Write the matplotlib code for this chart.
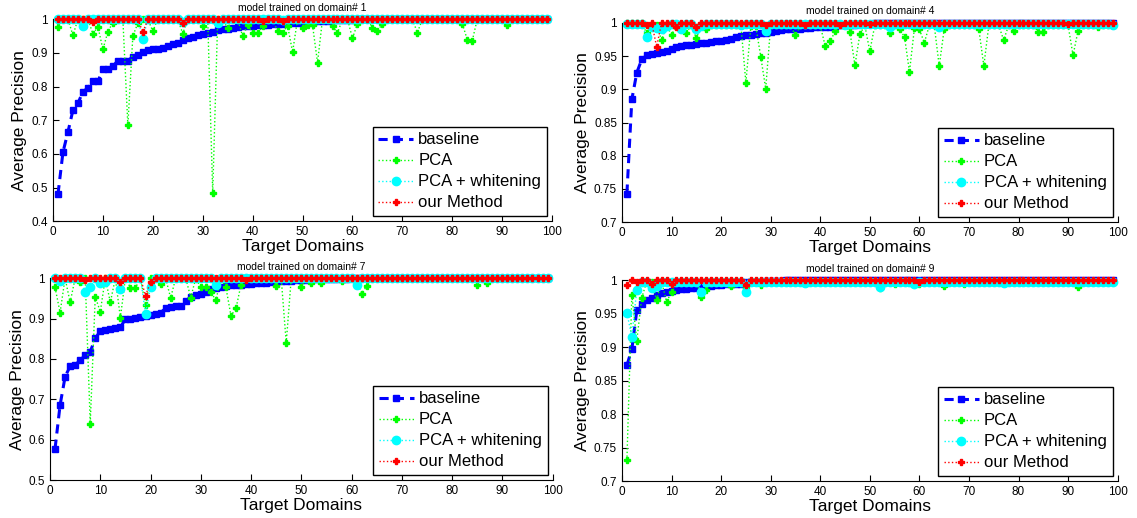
import numpy as np
import matplotlib.pyplot as plt

plt.rcParams['font.family'] = ['Liberation Sans', 'DejaVu Sans']

# target domain index (1..99)
domains = np.arange(1, 100)

# ---- model trained on domain# 1 ----
base_1 = [0.48, 0.605, 0.665, 0.73, 0.75, 0.785, 0.795, 0.815, 0.815, 0.851,
          0.853, 0.86, 0.877, 0.877, 0.877, 0.888, 0.895, 0.902, 0.908, 0.91,
          0.912, 0.915, 0.92, 0.926, 0.93, 0.937, 0.943, 0.948, 0.953, 0.957,
          0.96, 0.963, 0.967, 0.97, 0.972, 0.975, 0.977, 0.979, 0.981, 0.981,
          0.982, 0.983, 0.984, 0.985, 0.986, 0.987, 0.988, 0.989, 0.99, 0.991,
          0.992, 0.993, 0.994, 0.995, 0.996, 0.997, 0.998, 0.998, 0.999, 0.999,
          1.0, 1.0, 1.0, 1.0, 1.0, 1.0, 1.0, 1.0, 1.0, 1.0,
          1.0, 1.0, 1.0, 1.0, 1.0, 1.0, 1.0, 1.0, 1.0, 1.0,
          1.0, 1.0, 1.0, 1.0, 1.0, 1.0, 1.0, 1.0, 1.0, 1.0,
          1.0, 1.0, 1.0, 1.0, 1.0, 1.0, 1.0, 1.0, 1.0]
pca_1 = [0.978, 1.0, 1.0, 0.952, 1.0, 1.0, 1.0, 0.956, 0.978, 0.91,
         0.963, 0.99, 1.0, 1.0, 0.685, 0.95, 0.988, 1.0, 1.0, 0.964,
         1.0, 1.0, 1.0, 1.0, 1.0, 0.957, 1.0, 1.0, 1.0, 0.979,
         1.0, 0.485, 1.0, 1.0, 0.973, 1.0, 1.0, 0.949, 0.984, 0.958,
         0.958, 0.98, 1.0, 1.0, 0.964, 0.96, 0.981, 0.902, 1.0, 0.975,
         0.982, 0.982, 0.871, 1.0, 1.0, 0.979, 0.959, 1.0, 1.0, 0.943,
         0.987, 1.0, 1.0, 0.974, 0.964, 0.987, 1.0, 1.0, 1.0, 1.0,
         1.0, 1.0, 0.96, 1.0, 1.0, 1.0, 1.0, 1.0, 1.0, 1.0,
         1.0, 0.987, 0.939, 0.936, 1.0, 1.0, 1.0, 1.0, 1.0, 1.0,
         0.982, 1.0, 1.0, 1.0, 1.0, 1.0, 1.0, 1.0, 1.0]
pcaw_1 = [1.0, 1.0, 1.0, 1.0, 1.0, 0.979, 1.0, 1.0, 1.0, 1.0,
          1.0, 1.0, 1.0, 1.0, 1.0, 1.0, 1.0, 0.942, 1.0, 1.0,
          1.0, 1.0, 1.0, 1.0, 1.0, 0.993, 1.0, 1.0, 1.0, 1.0,
          1.0, 1.0, 0.988, 1.0, 1.0, 1.0, 1.0, 1.0, 1.0, 1.0,
          1.0, 1.0, 1.0, 1.0, 1.0, 0.998, 1.0, 1.0, 1.0, 1.0,
          1.0, 1.0, 1.0, 1.0, 1.0, 1.0, 1.0, 1.0, 1.0, 1.0,
          1.0, 1.0, 1.0, 1.0, 1.0, 1.0, 1.0, 1.0, 1.0, 1.0,
          1.0, 1.0, 1.0, 1.0, 1.0, 1.0, 1.0, 1.0, 1.0, 1.0,
          1.0, 1.0, 1.0, 1.0, 1.0, 1.0, 1.0, 1.0, 1.0, 1.0,
          1.0, 1.0, 1.0, 1.0, 1.0, 1.0, 1.0, 1.0, 1.0]
ours_1 = [1.0, 1.0, 1.0, 1.0, 1.0, 1.0, 1.0, 0.993, 1.0, 1.0,
          1.0, 1.0, 1.0, 1.0, 1.0, 1.0, 1.0, 0.961, 1.0, 1.0,
          1.0, 1.0, 1.0, 1.0, 1.0, 0.988, 1.0, 1.0, 1.0, 1.0,
          1.0, 1.0, 1.0, 1.0, 1.0, 1.0, 1.0, 1.0, 1.0, 1.0,
          1.0, 0.995, 1.0, 1.0, 1.0, 0.995, 1.0, 1.0, 1.0, 1.0,
          1.0, 1.0, 1.0, 1.0, 1.0, 1.0, 1.0, 1.0, 1.0, 1.0,
          1.0, 1.0, 1.0, 1.0, 1.0, 1.0, 1.0, 1.0, 1.0, 1.0,
          1.0, 1.0, 1.0, 1.0, 1.0, 1.0, 1.0, 1.0, 1.0, 1.0,
          1.0, 1.0, 1.0, 1.0, 1.0, 1.0, 1.0, 1.0, 1.0, 1.0,
          1.0, 1.0, 1.0, 1.0, 1.0, 1.0, 1.0, 1.0, 1.0]

# ---- model trained on domain# 4 ----
base_4 = [0.743, 0.885, 0.925, 0.945, 0.951, 0.953, 0.954, 0.956, 0.958, 0.961,
          0.963, 0.965, 0.966, 0.967, 0.968, 0.969, 0.97, 0.971, 0.972, 0.973,
          0.974, 0.975, 0.979, 0.98, 0.981, 0.982, 0.983, 0.984, 0.985, 0.986,
          0.988, 0.989, 0.99, 0.99, 0.991, 0.991, 0.992, 0.992, 0.993, 0.993,
          0.994, 0.994, 0.995, 0.996, 0.996, 0.997, 0.997, 0.998, 0.998, 0.998,
          0.999, 0.999, 0.999, 0.999, 0.999, 0.999, 0.999, 0.999, 0.999, 0.999,
          1.0, 1.0, 1.0, 1.0, 1.0, 1.0, 1.0, 1.0, 1.0, 1.0,
          1.0, 1.0, 1.0, 1.0, 1.0, 1.0, 1.0, 1.0, 1.0, 1.0,
          1.0, 1.0, 1.0, 1.0, 1.0, 1.0, 1.0, 1.0, 1.0, 1.0,
          1.0, 1.0, 1.0, 1.0, 1.0, 1.0, 1.0, 1.0, 1.0]
pca_4 = [1.0, 1.0, 1.0, 1.0, 0.984, 0.996, 0.996, 0.974, 0.996, 0.982,
         0.996, 0.996, 0.985, 0.996, 0.977, 0.996, 0.99, 0.996, 0.996, 0.996,
         0.996, 0.996, 0.996, 0.996, 0.91, 0.995, 0.995, 0.949, 0.901, 0.996,
         0.996, 0.996, 0.996, 0.996, 0.981, 0.996, 0.996, 0.996, 0.996, 0.996,
         0.965, 0.972, 0.987, 0.996, 0.996, 0.986, 0.936, 0.983, 0.996, 0.957,
         0.996, 0.996, 0.996, 0.984, 0.996, 0.99, 0.979, 0.926, 0.992, 0.99,
         0.97, 0.996, 0.996, 0.935, 0.99, 0.996, 0.996, 0.996, 0.996, 0.996,
         0.996, 0.99, 0.935, 0.996, 0.996, 0.996, 0.974, 0.996, 0.987, 0.996,
         0.996, 0.996, 0.996, 0.986, 0.986, 0.996, 0.996, 0.996, 0.996, 0.996,
         0.951, 0.988, 0.996, 0.996, 0.996, 0.994, 0.996, 0.996, 0.996]
pcaw_4 = [0.998, 0.998, 0.998, 0.998, 0.978, 0.993, 0.992, 0.99, 0.995, 0.998,
          0.998, 0.99, 0.998, 0.998, 0.991, 0.995, 0.998, 0.998, 0.998, 0.998,
          0.998, 0.998, 0.998, 0.996, 0.998, 0.998, 0.998, 0.998, 0.988, 0.998,
          0.998, 0.998, 0.998, 0.998, 0.998, 0.998, 0.998, 0.998, 0.998, 0.998,
          0.998, 0.998, 0.998, 0.998, 0.996, 0.998, 0.998, 0.998, 0.998, 0.998,
          0.998, 0.998, 0.998, 0.993, 0.998, 0.998, 0.998, 0.998, 0.998, 0.998,
          0.998, 0.998, 0.998, 0.993, 0.998, 0.998, 0.998, 0.998, 0.998, 0.998,
          0.998, 0.998, 0.998, 0.998, 0.998, 0.998, 0.998, 0.998, 0.998, 0.998,
          0.998, 0.998, 0.998, 0.998, 0.998, 0.998, 0.998, 0.998, 0.998, 0.998,
          0.998, 0.998, 0.998, 0.998, 0.998, 0.998, 0.998, 0.998, 0.996]
ours_4 = [1.0, 1.0, 1.0, 1.0, 0.997, 1.0, 0.964, 1.0, 1.0, 1.0,
          0.994, 1.0, 1.0, 1.0, 0.994, 1.0, 1.0, 1.0, 1.0, 1.0,
          1.0, 1.0, 1.0, 1.0, 1.0, 1.0, 1.0, 1.0, 0.997, 1.0,
          1.0, 1.0, 1.0, 1.0, 1.0, 1.0, 0.997, 1.0, 1.0, 1.0,
          1.0, 1.0, 1.0, 0.997, 1.0, 1.0, 1.0, 1.0, 1.0, 0.998,
          1.0, 1.0, 1.0, 1.0, 1.0, 1.0, 1.0, 1.0, 1.0, 1.0,
          1.0, 1.0, 1.0, 1.0, 1.0, 1.0, 1.0, 1.0, 1.0, 1.0,
          1.0, 1.0, 1.0, 1.0, 1.0, 1.0, 1.0, 1.0, 1.0, 1.0,
          1.0, 1.0, 1.0, 1.0, 1.0, 1.0, 1.0, 1.0, 1.0, 0.998,
          1.0, 1.0, 1.0, 1.0, 1.0, 1.0, 1.0, 1.0, 1.0]

# ---- model trained on domain# 7 ----
base_7 = [0.578, 0.686, 0.756, 0.782, 0.785, 0.797, 0.809, 0.818, 0.851, 0.869,
          0.871, 0.873, 0.876, 0.878, 0.899, 0.9, 0.901, 0.903, 0.906, 0.91,
          0.912, 0.915, 0.925, 0.928, 0.93, 0.932, 0.943, 0.954, 0.958, 0.962,
          0.965, 0.972, 0.975, 0.978, 0.98, 0.982, 0.983, 0.984, 0.985, 0.986,
          0.987, 0.988, 0.989, 0.99, 0.991, 0.992, 0.993, 0.994, 0.995, 0.995,
          0.996, 0.996, 0.997, 0.997, 0.998, 0.998, 0.999, 0.999, 0.999, 1.0,
          1.0, 1.0, 1.0, 1.0, 1.0, 1.0, 1.0, 1.0, 1.0, 1.0,
          1.0, 1.0, 1.0, 1.0, 1.0, 1.0, 1.0, 1.0, 1.0, 1.0,
          1.0, 1.0, 1.0, 1.0, 1.0, 1.0, 1.0, 1.0, 1.0, 1.0,
          1.0, 1.0, 1.0, 1.0, 1.0, 1.0, 1.0, 1.0, 1.0]
pca_7 = [0.977, 0.915, 1.0, 0.94, 1.0, 0.99, 1.0, 0.64, 0.954, 0.917,
         1.0, 0.94, 1.0, 0.902, 1.0, 0.976, 0.976, 1.0, 0.933, 1.0,
         1.0, 0.985, 1.0, 0.951, 1.0, 1.0, 1.0, 0.952, 1.0, 0.977,
         0.977, 0.966, 0.945, 1.0, 0.977, 0.907, 0.925, 0.984, 1.0, 1.0,
         1.0, 1.0, 1.0, 1.0, 0.98, 1.0, 0.84, 1.0, 1.0, 0.977,
         1.0, 0.988, 1.0, 0.987, 1.0, 1.0, 1.0, 0.993, 1.0, 1.0,
         1.0, 0.962, 0.98, 1.0, 1.0, 1.0, 1.0, 1.0, 1.0, 1.0,
         1.0, 1.0, 1.0, 1.0, 1.0, 1.0, 1.0, 1.0, 1.0, 1.0,
         1.0, 1.0, 1.0, 1.0, 0.983, 1.0, 0.989, 1.0, 1.0, 1.0,
         1.0, 1.0, 1.0, 1.0, 1.0, 1.0, 1.0, 1.0, 1.0]
pcaw_7 = [1.0, 0.993, 1.0, 1.0, 1.0, 1.0, 0.966, 0.978, 1.0, 0.987,
          0.99, 1.0, 1.0, 0.974, 1.0, 1.0, 1.0, 1.0, 0.912, 0.979,
          1.0, 1.0, 1.0, 1.0, 1.0, 1.0, 1.0, 1.0, 1.0, 1.0,
          1.0, 1.0, 0.982, 1.0, 1.0, 1.0, 1.0, 1.0, 1.0, 1.0,
          1.0, 1.0, 1.0, 1.0, 1.0, 1.0, 1.0, 1.0, 1.0, 1.0,
          1.0, 1.0, 1.0, 1.0, 1.0, 1.0, 1.0, 1.0, 1.0, 1.0,
          0.983, 1.0, 1.0, 1.0, 1.0, 1.0, 1.0, 1.0, 1.0, 1.0,
          1.0, 1.0, 1.0, 1.0, 1.0, 1.0, 1.0, 1.0, 1.0, 1.0,
          1.0, 1.0, 1.0, 1.0, 1.0, 1.0, 1.0, 1.0, 1.0, 1.0,
          1.0, 1.0, 1.0, 1.0, 1.0, 1.0, 1.0, 1.0, 1.0]
ours_7 = [1.0, 1.0, 1.0, 1.0, 1.0, 1.0, 0.995, 1.0, 1.0, 1.0,
          1.0, 1.0, 1.0, 0.991, 1.0, 1.0, 1.0, 1.0, 0.957, 0.99,
          1.0, 1.0, 1.0, 1.0, 1.0, 1.0, 1.0, 1.0, 1.0, 1.0,
          1.0, 1.0, 1.0, 1.0, 1.0, 1.0, 1.0, 1.0, 0.995, 1.0,
          1.0, 1.0, 1.0, 1.0, 1.0, 1.0, 1.0, 1.0, 1.0, 1.0,
          1.0, 1.0, 1.0, 1.0, 1.0, 1.0, 1.0, 1.0, 1.0, 1.0,
          1.0, 1.0, 1.0, 1.0, 1.0, 1.0, 1.0, 1.0, 1.0, 1.0,
          1.0, 1.0, 1.0, 1.0, 1.0, 1.0, 1.0, 1.0, 1.0, 1.0,
          1.0, 1.0, 1.0, 1.0, 1.0, 1.0, 1.0, 1.0, 1.0, 1.0,
          1.0, 1.0, 1.0, 1.0, 1.0, 1.0, 1.0, 1.0, 1.0]

# ---- model trained on domain# 9 ----
base_9 = [0.873, 0.897, 0.955, 0.965, 0.971, 0.973, 0.978, 0.981, 0.982, 0.984,
          0.986, 0.987, 0.987, 0.988, 0.988, 0.99, 0.991, 0.992, 0.993, 0.993,
          0.994, 0.994, 0.994, 0.995, 0.997, 0.997, 0.998, 0.998, 0.999, 0.999,
          0.999, 0.999, 1.0, 1.0, 1.0, 1.0, 1.0, 1.0, 1.0, 1.0,
          1.0, 1.0, 1.0, 1.0, 1.0, 1.0, 1.0, 1.0, 1.0, 1.0,
          1.0, 1.0, 1.0, 1.0, 1.0, 1.0, 1.0, 1.0, 1.0, 1.0,
          1.0, 1.0, 1.0, 1.0, 1.0, 1.0, 1.0, 1.0, 1.0, 1.0,
          1.0, 1.0, 1.0, 1.0, 1.0, 1.0, 1.0, 1.0, 1.0, 1.0,
          1.0, 1.0, 1.0, 1.0, 1.0, 1.0, 1.0, 1.0, 1.0, 1.0,
          1.0, 1.0, 1.0, 1.0, 1.0, 1.0, 1.0, 1.0, 1.0]
pca_9 = [0.731, 0.978, 0.91, 0.974, 0.998, 0.998, 0.971, 0.998, 0.968, 0.982,
         0.998, 0.998, 0.998, 0.998, 0.998, 0.975, 0.985, 0.998, 0.998, 0.998,
         0.998, 0.991, 0.998, 0.998, 0.989, 0.998, 0.998, 0.993, 0.998, 0.998,
         0.998, 0.998, 0.998, 0.998, 0.998, 0.998, 0.998, 0.998, 0.998, 0.998,
         0.998, 0.998, 0.998, 0.998, 0.998, 0.998, 0.998, 0.998, 0.998, 0.998,
         0.998, 0.988, 0.998, 0.998, 0.994, 0.998, 0.998, 0.998, 0.998, 0.994,
         0.998, 0.998, 0.998, 0.998, 0.992, 0.998, 0.998, 0.998, 0.994, 0.998,
         0.998, 0.998, 0.998, 0.998, 0.998, 0.998, 0.998, 0.998, 0.998, 0.998,
         0.998, 0.998, 0.998, 0.998, 0.998, 0.998, 0.998, 0.998, 0.998, 0.998,
         0.998, 0.99, 0.998, 0.998, 0.998, 0.998, 0.998, 0.998, 0.998]
pcaw_9 = [0.951, 0.916, 0.986, 0.998, 0.998, 0.988, 0.991, 0.998, 0.998, 0.998,
          0.998, 0.998, 0.998, 0.998, 0.998, 0.982, 0.998, 0.998, 0.998, 0.998,
          0.998, 0.998, 0.998, 0.998, 0.983, 0.998, 0.998, 0.998, 0.998, 0.998,
          0.998, 0.998, 0.998, 0.998, 0.998, 0.998, 0.996, 0.998, 0.998, 0.998,
          0.998, 0.998, 0.998, 0.998, 0.998, 0.998, 0.998, 0.998, 0.998, 0.998,
          0.998, 0.99, 0.998, 0.998, 0.998, 0.998, 0.998, 0.998, 0.995, 0.998,
          0.998, 0.998, 0.998, 0.998, 0.998, 0.998, 0.998, 0.998, 0.998, 0.998,
          0.998, 0.998, 0.998, 0.998, 0.998, 0.998, 0.996, 0.998, 0.998, 0.998,
          0.998, 0.998, 0.998, 0.998, 0.998, 0.998, 0.998, 0.998, 0.998, 0.998,
          0.998, 0.998, 0.998, 0.998, 0.998, 0.998, 0.998, 0.998, 0.998]
ours_9 = [0.993, 1.0, 0.998, 1.0, 1.0, 0.995, 1.0, 1.0, 1.0, 0.994,
          1.0, 1.0, 1.0, 1.0, 1.0, 1.0, 1.0, 1.0, 1.0, 1.0,
          1.0, 1.0, 1.0, 1.0, 0.993, 1.0, 1.0, 1.0, 1.0, 1.0,
          1.0, 1.0, 1.0, 1.0, 1.0, 1.0, 1.0, 1.0, 1.0, 1.0,
          1.0, 1.0, 1.0, 1.0, 1.0, 1.0, 1.0, 1.0, 1.0, 1.0,
          1.0, 1.0, 1.0, 1.0, 1.0, 1.0, 1.0, 1.0, 1.0, 0.998,
          1.0, 1.0, 1.0, 1.0, 1.0, 1.0, 1.0, 1.0, 1.0, 1.0,
          1.0, 1.0, 1.0, 1.0, 1.0, 1.0, 1.0, 1.0, 1.0, 1.0,
          1.0, 1.0, 1.0, 1.0, 1.0, 1.0, 1.0, 1.0, 1.0, 1.0,
          1.0, 1.0, 1.0, 1.0, 1.0, 1.0, 1.0, 1.0, 1.0]

series_labels = ["baseline", "PCA", "PCA + whitening", "our Method"]


def draw_panel(ax, base, pca, pcaw, ours, domain, ymin, ystep):
    ax.plot(domains, base, color="#0000ff", linestyle="--", linewidth=2.2,
            dashes=(3, 2), marker="s", markersize=4.5, label=series_labels[0], clip_on=False)
    ax.plot(domains, pca, color="#00ff00", linestyle=":", linewidth=1,
            marker="P", markersize=4.5, label=series_labels[1], clip_on=False)
    ax.plot(domains, pcaw, color="#00ffff", linestyle=":", linewidth=1,
            marker="o", markersize=6, label=series_labels[2], clip_on=False)
    ax.plot(domains, ours, color="#ff0000", linestyle=":", linewidth=1,
            marker="P", markersize=4.5, label=series_labels[3], clip_on=False)

    ax.set_xlim(0, 100)
    ax.set_ylim(ymin, 1)
    ax.set_xticks(np.arange(0, 101, 10))
    yt = np.arange(ymin, 1.0001, ystep)
    ax.set_yticks(yt)
    ax.set_yticklabels([f"{v:g}" for v in np.round(yt, 2)])
    ax.tick_params(direction="in", length=4, labelsize=8.5, top=False, right=False)
    ax.spines["top"].set_visible(False)
    ax.spines["right"].set_visible(False)

    ax.set_xlabel("Target Domains", fontsize=12.5, labelpad=1)
    ax.set_ylabel("Average Precision", fontsize=12.5, labelpad=3)
    ax.set_title(f"model trained on domain# {domain}", fontsize=7.5, pad=6)

    leg = ax.legend(loc="lower right", fontsize=12, fancybox=False, framealpha=1,
                    edgecolor="black", borderaxespad=0.3, labelspacing=0.36,
                    handlelength=2.1, handletextpad=0.3, borderpad=0.35)
    leg.get_frame().set_linewidth(1)


fig = plt.figure(figsize=(11.37, 5.18), dpi=100)

ax1 = fig.add_axes([0.0466, 0.573, 0.439, 0.390])
ax2 = fig.add_axes([0.547, 0.571, 0.436, 0.385])
ax3 = fig.add_axes([0.044, 0.073, 0.442, 0.390])
ax4 = fig.add_axes([0.547, 0.071, 0.436, 0.388])

draw_panel(ax1, base_1, pca_1, pcaw_1, ours_1, 1, 0.4, 0.1)
draw_panel(ax2, base_4, pca_4, pcaw_4, ours_4, 4, 0.7, 0.05)
draw_panel(ax3, base_7, pca_7, pcaw_7, ours_7, 7, 0.5, 0.1)
draw_panel(ax4, base_9, pca_9, pcaw_9, ours_9, 9, 0.7, 0.05)

fig.savefig("out.png", dpi=100)
